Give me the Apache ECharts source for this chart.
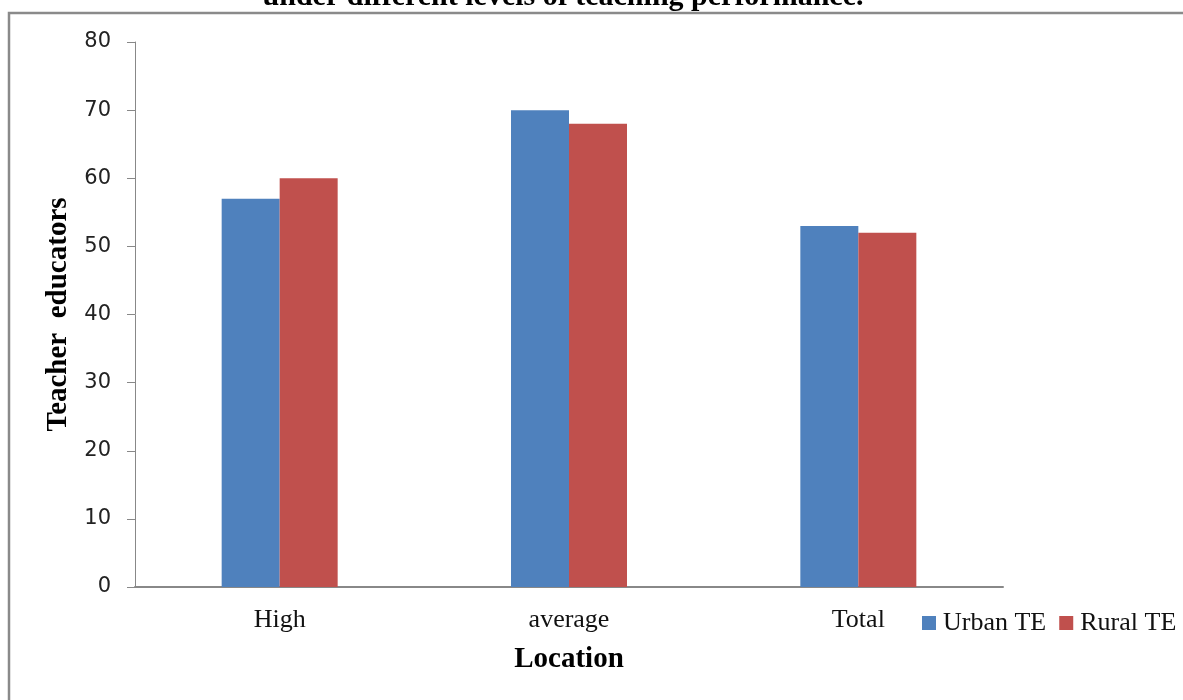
<!DOCTYPE html>
<html>
<head>
<meta charset="utf-8">
<script src="https://cdn.jsdelivr.net/npm/echarts@6/dist/echarts.min.js"></script>
<style>
  html, body { margin: 0; padding: 0; background: #fff; }
  #chart { width: 1183px; height: 700px; }
</style>
</head>
<body>
<div id="chart"></div>
<script>
// Teacher educators by location and teaching performance level
const categories = ['High', 'average', 'Total'];
const urbanTE = [57, 70, 53];
const ruralTE = [60, 68, 52];
const seriesNames = ['Urban TE', 'Rural TE'];
const titleText = 'under different levels of teaching performance.';

const serif = '"Liberation Serif", "Times New Roman", serif';
const sans = '"DejaVu Sans", Verdana, sans-serif';

const chart = echarts.init(document.getElementById('chart'), null, { renderer: 'canvas' });

chart.setOption({
  backgroundColor: '#ffffff',
  animation: false,
  graphic: [
    {
      type: 'rect',
      shape: { x: 9, y: 13, width: 1200, height: 720 },
      style: { fill: 'none', stroke: '#8a8a8a', lineWidth: 2.5 },
      silent: true
    },
    {
      type: 'text',
      x: 563, y: 12,
      style: {
        text: titleText,
        font: 'bold 30px ' + serif,
        fill: '#000',
        align: 'center',
        verticalAlign: 'bottom'
      },
      silent: true
    }
  ],
  legend: {
    left: 917,
    top: 605,
    itemWidth: 14,
    itemHeight: 14,
    itemGap: 13,
    icon: 'rect',
    textStyle: { fontFamily: serif, fontSize: 26, color: '#111', padding: [0, 0, 0, 2] },
    data: seriesNames
  },
  grid: { left: 135, right: 180, top: 42, bottom: 113, containLabel: false },
  xAxis: {
    type: 'category',
    data: categories,
    name: 'Location',
    nameLocation: 'middle',
    nameGap: 58,
    nameTextStyle: { fontFamily: serif, fontSize: 29, fontWeight: 'bold', color: '#000' },
    axisLine: { lineStyle: { color: '#888', width: 2 } },
    axisTick: { show: false },
    axisLabel: { fontFamily: serif, fontSize: 26, color: '#111', margin: 20 }
  },
  yAxis: {
    type: 'value',
    min: 0, max: 80, interval: 10,
    name: 'Teacher  educators',
    nameLocation: 'middle',
    nameGap: 58,
    nameRotate: 90,
    nameTextStyle: { fontFamily: serif, fontSize: 29, fontWeight: 'bold', color: '#000' },
    axisLine: { show: true, lineStyle: { color: '#888', width: 1 } },
    axisTick: { show: true, length: 8, lineStyle: { color: '#888' } },
    splitLine: { show: false },
    axisLabel: { fontFamily: sans, fontSize: 21, color: '#222', margin: 24 }
  },
  series: [
    {
      name: seriesNames[0], type: 'bar', data: urbanTE,
      barWidth: 58, barGap: '0%',
      itemStyle: { color: '#4f81bd' }
    },
    {
      name: seriesNames[1], type: 'bar', data: ruralTE,
      barWidth: 58, barGap: '0%',
      itemStyle: { color: '#c0504d' }
    }
  ]
});
</script>
</body>
</html>
